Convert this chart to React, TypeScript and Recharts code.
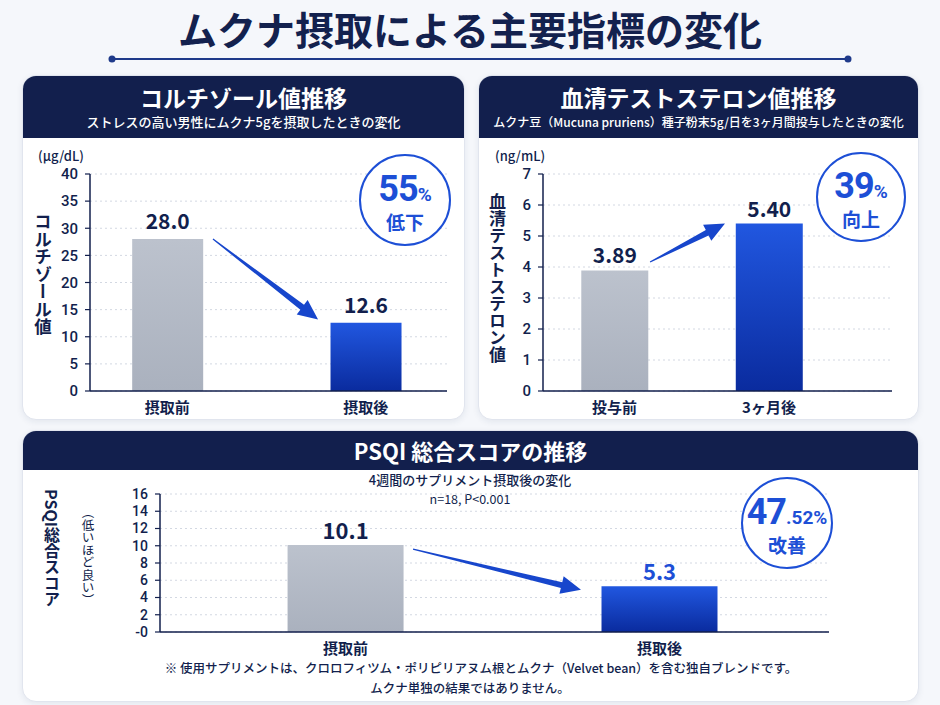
import React from "react";
import { BarChart, Bar, XAxis, YAxis, CartesianGrid, Cell, ReferenceLine } from "recharts";

const cortisolLabels = ["摂取前", "摂取後"];
const cortisolValues = [28.0, 12.6];
const cortisolTicks = [0, 5, 10, 15, 20, 25, 30, 35, 40];

const testosteroneLabels = ["投与前", "3ヶ月後"];
const testosteroneValues = [3.89, 5.4];
const testosteroneTicks = [0, 1, 2, 3, 4, 5, 6, 7];

const psqiLabels = ["摂取前", "摂取後"];
const psqiValues = [10.1, 5.3];
const psqiTicks = [0, 2, 4, 6, 8, 10, 12, 14, 16];

const NAVY = "#121f4d";
const BLUE = "#1d4fd6";
const FONT = '"Noto Sans CJK JP", "Noto Sans", sans-serif';
const NUM_FONT = 'Roboto, "Noto Sans", sans-serif';

// tapered arrow drawn between the segment end points
function ArrowShape(props: any) {
  const { x1, y1, x2, y2 } = props;
  const dx = x2 - x1;
  const dy = y2 - y1;
  const len = Math.sqrt(dx * dx + dy * dy);
  const ux = dx / len;
  const uy = dy / len;
  const nx = -uy;
  const ny = ux;
  const headLen = 20;
  const headW = 9;
  const bx = x2 - ux * headLen;
  const by = y2 - uy * headLen;
  const pts = [
    [x1 + nx * 0.6, y1 + ny * 0.6],
    [bx + nx * 3, by + ny * 3],
    [bx + nx * headW, by + ny * headW],
    [x2, y2],
    [bx - nx * headW, by - ny * headW],
    [bx - nx * 3, by - ny * 3],
    [x1 - nx * 0.6, y1 - ny * 0.6],
  ];
  return <polygon points={pts.map((p) => p.join(",")).join(" ")} fill="#1746cc" />;
}

type PanelChartProps = {
  id: string;
  labels: string[];
  values: number[];
  ticks: number[];
  xDomain: [number, number];
  barSize: number;
  digits: number;
  box: { left: number; top: number; width: number; height: number };
  margin: { top: number; right: number; bottom: number; left: number };
  arrow: [{ x: number; y: number }, { x: number; y: number }];
  labelColors: string[];
  labelSize: number;
  labelOffset: number;
  tickSize: number;
  tickFormat?: (v: number) => string;
};

function PanelChart(p: PanelChartProps) {
  const data = p.values.map((v, i) => ({ x: i, name: p.labels[i], value: v }));
  const yMax = p.ticks[p.ticks.length - 1];
  return (
    <div style={{ position: "absolute", left: p.box.left, top: p.box.top }}>
      <BarChart width={p.box.width} height={p.box.height} data={data} margin={p.margin}>
        <defs>
          <linearGradient id={`gray-${p.id}`} x1="0" y1="0" x2="0" y2="1">
            <stop offset="0%" stopColor="#bcc2cd" />
            <stop offset="100%" stopColor="#aab1be" />
          </linearGradient>
          <linearGradient id={`blue-${p.id}`} x1="0" y1="0" x2="0" y2="1">
            <stop offset="0%" stopColor="#2157e0" />
            <stop offset="100%" stopColor="#0a2b9e" />
          </linearGradient>
        </defs>
        <CartesianGrid vertical={false} stroke="#d3d8e2" strokeDasharray="2 3" />
        <XAxis
          type="number"
          dataKey="x"
          domain={p.xDomain}
          ticks={[0, 1]}
          tickFormatter={(i: number) => p.labels[i] ?? ""}
          axisLine={{ stroke: NAVY, strokeWidth: 1.5 }}
          tickLine={false}
          tickMargin={5}
          tick={{ fill: NAVY, fontSize: 15, fontWeight: 700, fontFamily: FONT }}
          height={25}
          allowDataOverflow
        />
        <YAxis
          type="number"
          domain={[0, yMax]}
          ticks={p.ticks}
          interval={0}
          width={40}
          axisLine={{ stroke: NAVY, strokeWidth: 1.5 }}
          tickLine={{ stroke: NAVY, strokeWidth: 1.2 }}
          tickSize={5}
          tickMargin={7}
          tickFormatter={p.tickFormat}
          tick={{ fill: NAVY, fontSize: p.tickSize, fontWeight: 500, fontFamily: NUM_FONT }}
        />
        <Bar
          dataKey="value"
          barSize={p.barSize}
          isAnimationActive={false}
          label={(lp: any) => (
            <text
              x={lp.x + lp.width / 2}
              y={lp.y - p.labelOffset}
              textAnchor="middle"
              fill={p.labelColors[lp.index] ?? NAVY}
              fontSize={p.labelSize}
              fontWeight={700}
              fontFamily={FONT}
            >
              {Number(lp.value).toFixed(p.digits)}
            </text>
          )}
        >
          {data.map((_, i) => (
            <Cell key={`c-${i}`} fill={i === 0 ? `url(#gray-${p.id})` : `url(#blue-${p.id})`} />
          ))}
        </Bar>
        <ReferenceLine segment={p.arrow} ifOverflow="visible" shape={ArrowShape} />
      </BarChart>
    </div>
  );
}

// round percentage badge
function Badge({ cx, cy, r, big, small, word }: { cx: number; cy: number; r: number; big: string; small: string; word: string }) {
  const s = r * 2 + 4;
  return (
    <svg style={{ position: "absolute", left: cx - s / 2, top: cy - s / 2 }} width={s} height={s}>
      <circle cx={s / 2} cy={s / 2} r={r} fill="#fff" stroke={BLUE} strokeWidth={2} />
      <text x={s / 2} y={s / 2 + 1} textAnchor="middle" fill={BLUE} fontFamily={NUM_FONT} fontWeight={700}>
        <tspan fontSize={36} letterSpacing={-1}>{big}</tspan>
        <tspan fontSize={19}>{small}</tspan>
      </text>
      <text x={s / 2} y={s / 2 + 30} textAnchor="middle" fill={BLUE} fontFamily={FONT} fontWeight={700} fontSize={19}>
        {word}
      </text>
    </svg>
  );
}

const panel: React.CSSProperties = {
  position: "absolute",
  background: "#fff",
  borderRadius: 14,
  border: "1px solid #e1e5ee",
  boxShadow: "0 2px 6px rgba(30,45,90,0.08)",
  overflow: "hidden",
};

const header: React.CSSProperties = {
  background: NAVY,
  color: "#fff",
  textAlign: "center",
  fontFamily: FONT,
};

const vertical: React.CSSProperties = {
  position: "absolute",
  writingMode: "vertical-rl",
  fontFamily: FONT,
  color: NAVY,
  fontWeight: 700,
  lineHeight: 1,
};

export default function App() {
  return (
    <div
      style={{
        position: "absolute",
        left: 0,
        top: 0,
        width: 940,
        height: 705,
        background: "#f5f7fb",
        fontFamily: FONT,
        overflow: "hidden",
      }}
    >
      <div
        style={{
          position: "absolute",
          top: 6,
          width: 940,
          textAlign: "center",
          fontSize: 39,
          fontWeight: 700,
          color: "#13214e",
          lineHeight: "44px",
        }}
      >
        ムクナ摂取による主要指標の変化
      </div>
      <svg style={{ position: "absolute", left: 0, top: 52 }} width={940} height={14}>
        <line x1={112} y1={7} x2={848} y2={7} stroke="#1f3a8a" strokeWidth={2} />
        <circle cx={112} cy={7} r={3.5} fill="#1f3a8a" />
        <circle cx={848} cy={7} r={3.5} fill="#1f3a8a" />
      </svg>

      {/* cortisol panel */}
      <div style={{ ...panel, left: 22, top: 75, width: 441, height: 343 }}>
        <div style={{ ...header, height: 62 }}>
          <div style={{ fontSize: 23, fontWeight: 700, paddingTop: 6, lineHeight: "30px" }}>コルチゾール値推移</div>
          <div style={{ fontSize: 13, fontWeight: 500, lineHeight: "20px" }}>ストレスの高い男性にムクナ5gを摂取したときの変化</div>
        </div>
      </div>
      <PanelChart
        id="cort"
        labels={cortisolLabels}
        values={cortisolValues}
        ticks={cortisolTicks}
        xDomain={[-0.39, 1.41]}
        barSize={71}
        digits={1}
        box={{ left: 22, top: 140, width: 441, height: 280 }}
        margin={{ top: 34, right: 16, bottom: 4, left: 28 }}
        arrow={[{ x: 0.23, y: 28 }, { x: 0.76, y: 13.2 }]}
        labelColors={[NAVY, NAVY]}
        labelSize={21}
        labelOffset={10}
        tickSize={15}
      />
      <div style={{ position: "absolute", left: 38, top: 146, fontSize: 13, color: NAVY, fontWeight: 500 }}>(μg/dL)</div>
      <div style={{ ...vertical, left: 34, top: 213, fontSize: 17.5 }}>コルチゾール値</div>
      <Badge cx={405} cy={200} r={45} big="55" small="%" word="低下" />

      {/* testosterone panel */}
      <div style={{ ...panel, left: 478, top: 75, width: 439, height: 343 }}>
        <div style={{ ...header, height: 62 }}>
          <div style={{ fontSize: 23, fontWeight: 700, paddingTop: 6, lineHeight: "30px" }}>血清テストステロン値推移</div>
          <div style={{ fontSize: 12, fontWeight: 500, lineHeight: "20px" }}>
            ムクナ豆（Mucuna pruriens）種子粉末5g/日を3ヶ月間投与したときの変化
          </div>
        </div>
      </div>
      <PanelChart
        id="test"
        labels={testosteroneLabels}
        values={testosteroneValues}
        ticks={testosteroneTicks}
        xDomain={[-0.463, 1.796]}
        barSize={67}
        digits={2}
        box={{ left: 478, top: 140, width: 439, height: 280 }}
        margin={{ top: 34, right: 25, bottom: 4, left: 25 }}
        arrow={[{ x: 0.23, y: 4.16 }, { x: 0.715, y: 5.4 }]}
        labelColors={[NAVY, NAVY]}
        labelSize={21}
        labelOffset={7}
        tickSize={15}
      />
      <div style={{ position: "absolute", left: 495, top: 146, fontSize: 13, color: NAVY, fontWeight: 500 }}>(ng/mL)</div>
      <div style={{ ...vertical, left: 489, top: 193, fontSize: 17 }}>血清テストステロン値</div>
      <Badge cx={861} cy={197} r={44} big="39" small="%" word="向上" />

      {/* PSQI panel */}
      <div style={{ ...panel, left: 22, top: 430, width: 895, height: 270 }}>
        <div style={{ ...header, height: 39 }}>
          <div style={{ fontSize: 22, fontWeight: 700, lineHeight: "39px" }}>PSQI 総合スコアの推移</div>
        </div>
      </div>
      <div style={{ position: "absolute", left: 0, width: 940, top: 471, textAlign: "center", fontSize: 13, color: NAVY, fontWeight: 500, lineHeight: "18px" }}>
        4週間のサプリメント摂取後の変化
      </div>
      <div style={{ position: "absolute", left: 0, width: 940, top: 490, textAlign: "center", fontSize: 12.5, color: NAVY, lineHeight: "17px" }}>
        n=18, P&lt;0.001
      </div>
      <PanelChart
        id="psqi"
        labels={psqiLabels}
        values={psqiValues}
        ticks={psqiTicks}
        xDomain={[-0.591, 1.54]}
        barSize={116}
        digits={1}
        box={{ left: 22, top: 470, width: 895, height: 190 }}
        margin={{ top: 24, right: 88, bottom: 3, left: 98 }}
        arrow={[{ x: 0.215, y: 9.6 }, { x: 0.75, y: 4.9 }]}
        labelColors={[NAVY, BLUE]}
        labelSize={22}
        labelOffset={6}
        tickSize={14}
        tickFormat={(v: number) => (v === 0 ? "-0" : String(v))}
      />
      <div style={{ ...vertical, left: 44, top: 489, fontSize: 16 }}>PSQI総合スコア</div>
      <div style={{ ...vertical, left: 81, top: 506, fontSize: 12.5, fontWeight: 400 }}>（低いほど良い）</div>
      <Badge cx={787} cy={523} r={45} big="47" small=".52%" word="改善" />

      <div style={{ position: "absolute", left: 0, width: 940, top: 658, textAlign: "center", fontSize: 12.5, color: NAVY, fontWeight: 500, lineHeight: "20px" }}>
        <div style={{ paddingLeft: 22 }}>※ 使用サプリメントは、クロロフィツム・ポリピリアヌム根とムクナ（Velvet bean）を含む独自ブレンドです。</div>
        <div>ムクナ単独の結果ではありません。</div>
      </div>
    </div>
  );
}
